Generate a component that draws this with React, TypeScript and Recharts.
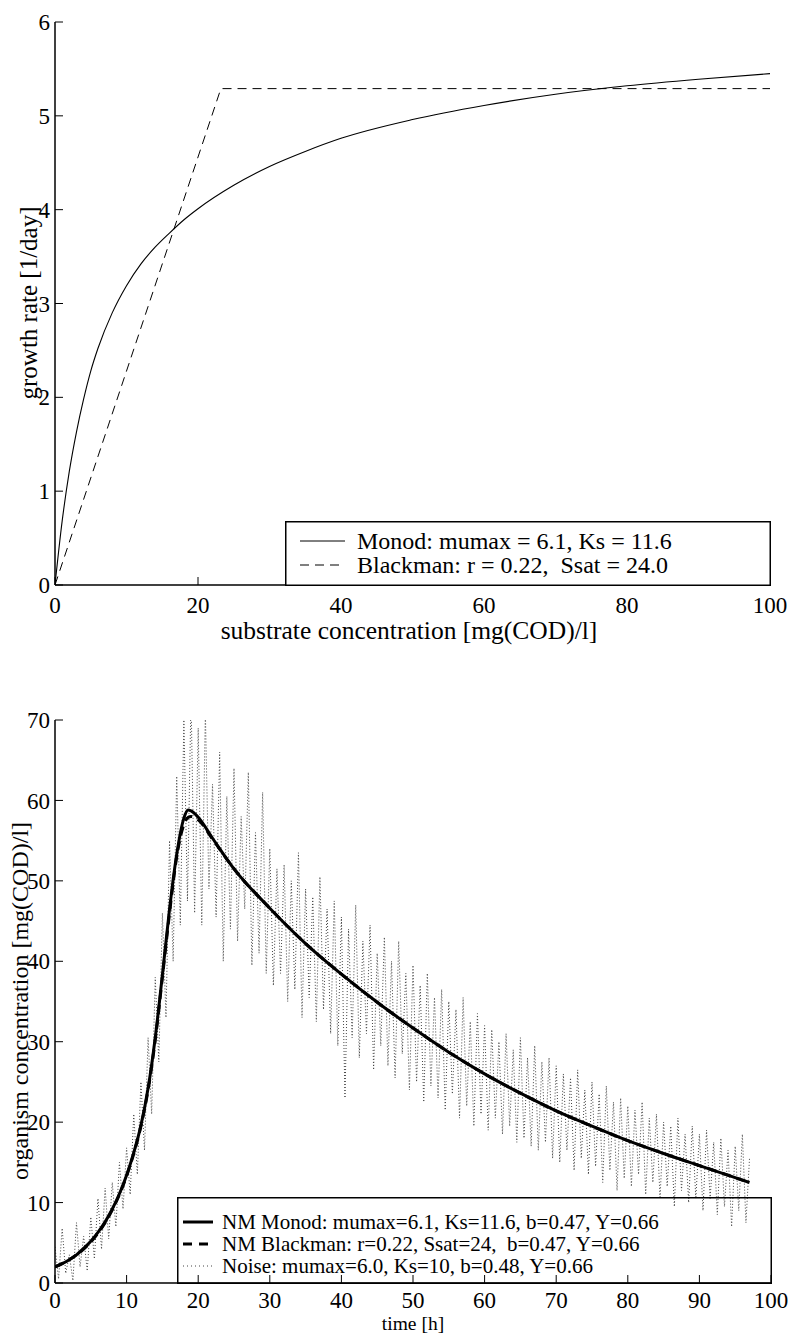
import React from "react";
import { LineChart, Line, XAxis, YAxis, Label } from "recharts";

const FONT = '"Liberation Serif", "Times New Roman", serif';

// upper panel: growth rate [1/day] against substrate [mg(COD)/l]
const substrate = [0, 1, 2, 3, 4, 5, 6, 8, 10, 12, 14, 16, 18, 20, 25, 30, 35, 40, 50, 60, 70, 80, 90, 100];
const monodRate = [0, 0.68, 1.21, 1.63, 1.98, 2.28, 2.52, 2.9, 3.19, 3.42, 3.6, 3.75, 3.89, 4.01, 4.26, 4.46, 4.62, 4.76, 4.96, 5.11, 5.23, 5.32, 5.39, 5.45];
const blackmanS = [0, 23.2, 100];
const blackmanRate = [0, 5.29, 5.29];
const topXTicks = [0, 20, 40, 60, 80, 100];
const topYTicks = [0, 1, 2, 3, 4, 5, 6];

// lower panel: organism concentration over time
const timeH = [0, 1, 2, 3, 4, 5, 6, 7, 8, 9, 10, 11, 12, 13, 14, 15, 16, 17, 18, 18.6, 19, 20, 22, 25, 30, 35, 40, 45, 50, 55, 60, 65, 70, 75, 80, 85, 90, 95, 97];
const nmMonod = [2.0, 2.4, 2.9, 3.5, 4.3, 5.2, 6.3, 7.6, 9.2, 11.1, 13.4, 16.2, 19.6, 24.2, 30.5, 38.3, 46.5, 53.3, 57.8, 58.8, 58.7, 57.9, 55.3, 51.5, 46.6, 42.2, 38.4, 34.9, 31.7, 28.7, 26.0, 23.6, 21.4, 19.5, 17.7, 16.1, 14.6, 13.1, 12.5];
const nmBlackman = [2.0, 2.4, 2.9, 3.5, 4.2, 5.1, 6.2, 7.5, 9.1, 11.0, 13.3, 16.1, 19.5, 24.0, 30.2, 38.0, 46.0, 53.0, 57.0, 57.9, 58.0, 57.6, 55.2, 51.5, 46.6, 42.2, 38.4, 34.9, 31.7, 28.7, 26.0, 23.6, 21.4, 19.5, 17.7, 16.1, 14.6, 13.1, 12.5];
// noisy measurements, one every half hour from t = 0
const noiseStep = 0.5;
const noise = [
  4.5, 0.5, 6.8, 1.2, 3.5, 0.3, 7.5, 2.0, 5.8, 1.5, 8.2, 3.0, 10.5, 4.2, 11.8, 5.5, 12.5, 7.0, 15.0, 9.2, 16.8, 11.0, 21.0, 13.5,
  25.0, 16.5, 30.5, 21.0, 38.0, 27.5, 46.0, 33.0, 55.0, 40.0, 63.0, 44.5,
  70.0, 47.5, 73.0, 46.0, 69.0, 44.5, 71.0, 49.0, 62.0, 45.5, 66.0, 40.0, 60.5, 44.0, 64.0, 42.5, 58.0, 46.5, 63.5, 39.5, 56.0, 41.0, 61.0, 38.5,
  54.0, 37.0, 51.5, 38.5, 52.0, 35.0, 50.0, 36.5, 53.5, 33.0, 49.0, 35.5, 48.0, 32.5, 50.5, 34.0, 46.5, 31.0, 47.5, 29.5,
  45.5, 23.0, 44.0, 30.5, 47.0, 28.0, 42.5, 31.0, 44.5, 26.5, 41.0, 29.5, 43.0, 27.0, 40.0, 25.5, 42.5, 28.5, 38.5, 24.0,
  39.5, 25.0, 37.0, 22.5, 38.5, 24.5, 35.5, 23.0, 36.5, 21.5, 35.0, 23.5, 34.0, 20.5, 35.5, 22.0, 32.5, 19.5, 33.5, 21.0,
  32.0, 19.0, 31.5, 20.5, 30.0, 18.5, 31.0, 19.5, 29.0, 17.5, 30.5, 18.0, 28.0, 17.0, 29.5, 16.5, 27.5, 17.5, 28.0, 15.5,
  27.0, 15.0, 26.0, 16.5, 25.5, 14.0, 26.5, 15.5, 24.0, 13.5, 25.0, 14.5, 23.5, 12.5, 24.5, 14.0, 22.5, 11.5, 23.0, 13.0,
  22.0, 12.0, 21.5, 13.5, 22.5, 11.0, 20.5, 12.5, 21.0, 10.5, 20.0, 12.0, 19.5, 9.5, 20.5, 11.5, 18.5, 10.0, 19.5, 10.5,
  18.5, 9.0, 19.0, 10.5, 17.5, 8.5, 18.0, 9.5, 16.5, 7.0, 17.0, 9.0, 18.5, 7.5, 15.5,
];
const botXTicks = [0, 10, 20, 30, 40, 50, 60, 70, 80, 90, 100];
const botYTicks = [0, 10, 20, 30, 40, 50, 60, 70];

const pairs = (xs: number[], ys: number[]) => xs.map((x, i) => ({ x, y: ys[i] }));
const monodTopData = pairs(substrate, monodRate);
const blackmanTopData = pairs(blackmanS, blackmanRate);
const monodData = pairs(timeH, nmMonod);
const blackmanData = pairs(timeH, nmBlackman);
const noiseData = noise.map((y, i) => ({ x: i * noiseStep, y }));

const tickStyle = { fill: "#000", fontSize: 23, fontFamily: FONT };

function Frame({ xTicks, yTicks, xDomain, yDomain, xTitle, yTitle, xMargin }: any) {
  // the four axes; ticks point inwards like the MATLAB box
  return [
    <XAxis key="xb" xAxisId="b" dataKey="x" type="number" domain={xDomain} ticks={xTicks} interval={0}
      allowDataOverflow height={35} stroke="#000" axisLine={{ strokeWidth: 1.5 }} tickSize={-8} tickMargin={xMargin}
      tick={tickStyle}>
      {xTitle}
    </XAxis>,
    <XAxis key="xt" xAxisId="t" orientation="top" dataKey="x" type="number" domain={xDomain} ticks={xTicks}
      interval={0} allowDataOverflow height={0} stroke="#000" axisLine={{ strokeWidth: 1.5 }} tickSize={-8}
      tick={false} />,
    <YAxis key="yl" yAxisId="l" type="number" domain={yDomain} ticks={yTicks} interval={0} allowDataOverflow
      width={45} stroke="#000" axisLine={{ strokeWidth: 1.5 }} tickSize={-8} tickMargin={13} tick={tickStyle}>
      {yTitle}
    </YAxis>,
    <YAxis key="yr" yAxisId="r" orientation="right" type="number" domain={yDomain} ticks={yTicks} interval={0}
      allowDataOverflow width={0} stroke="#000" axisLine={{ strokeWidth: 1.5 }} tickSize={-8} tick={false} />,
  ];
}

function TopChart() {
  const xTitle = (
    <Label content={() => (
      <text x={409} y={639} textAnchor="middle" fontSize={25.5} fontFamily={FONT} fill="#000">
        substrate concentration [mg(COD)/l]
      </text>
    )} />
  );
  const yTitle = (
    <Label content={() => (
      <text x={37} y={303} textAnchor="middle" fontSize={25} fontFamily={FONT} fill="#000"
        transform="rotate(-90 37 303)">
        growth rate [1/day]
      </text>
    )} />
  );
  return (
    <LineChart width={792} height={670} margin={{ top: 22, right: 22, bottom: 50, left: 10 }}>
      {Frame({ xTicks: topXTicks, yTicks: topYTicks, xDomain: [0, 100], yDomain: [0, 6], xTitle, yTitle, xMargin: 20 })}
      <Line data={blackmanTopData} xAxisId="b" yAxisId="l" dataKey="y" type="linear" stroke="#000"
        strokeWidth={1} strokeDasharray="9 6" dot={false} isAnimationActive={false} />
      <Line data={monodTopData} xAxisId="b" yAxisId="l" dataKey="y" type="monotone" stroke="#000"
        strokeWidth={1.1} dot={false} isAnimationActive={false} />
    </LineChart>
  );
}

function BottomChart() {
  const xTitle = (
    <Label content={() => (
      <text x={413} y={632} textAnchor="middle" fontSize={19.5} fontFamily={FONT} fill="#000">
        time [h]
      </text>
    )} />
  );
  const yTitle = (
    <Label content={() => (
      <text x={28} y={303} textAnchor="middle" fontSize={24} fontFamily={FONT} fill="#000"
        transform="rotate(-90 28 303)">
        organism concentration [mg(COD)/l]
      </text>
    )} />
  );
  return (
    <LineChart width={792} height={635} margin={{ top: 22, right: 21, bottom: 15, left: 10 }}>
      {Frame({ xTicks: botXTicks, yTicks: botYTicks, xDomain: [0, 100], yDomain: [0, 70], xTitle, yTitle, xMargin: 17 })}
      <Line data={noiseData} xAxisId="b" yAxisId="l" dataKey="y" type="linear" stroke="#444"
        strokeWidth={1} strokeDasharray="1 2" dot={false} isAnimationActive={false} />
      <Line data={blackmanData} xAxisId="b" yAxisId="l" dataKey="y" type="monotone" stroke="#000"
        strokeWidth={3} strokeDasharray="9 6" dot={false} isAnimationActive={false} />
      <Line data={monodData} xAxisId="b" yAxisId="l" dataKey="y" type="monotone" stroke="#000"
        strokeWidth={3} dot={false} isAnimationActive={false} />
    </LineChart>
  );
}

function TopLegend() {
  return (
    <svg width={486} height={65} style={{ position: "absolute", left: 285, top: 521, pointerEvents: "none" }}>
      <rect x={0.75} y={0.75} width={484.5} height={63.5} fill="#fff" stroke="#000" strokeWidth={1.5} />
      <line x1={15} x2={60} y1={20} y2={20} stroke="#000" strokeWidth={1} />
      <text x={72} y={28} fontSize={24} fontFamily={FONT}>Monod: mumax = 6.1, Ks = 11.6</text>
      <line x1={15} x2={60} y1={44} y2={44} stroke="#000" strokeWidth={1} strokeDasharray="9 6" />
      <text x={72} y={52} fontSize={24} fontFamily={FONT} style={{ whiteSpace: "pre" }}>
        {"Blackman: r = 0.22,  Ssat = 24.0"}
      </text>
    </svg>
  );
}

function BottomLegend() {
  return (
    <svg width={595} height={87} style={{ position: "absolute", left: 177, top: 1197, pointerEvents: "none" }}>
      <rect x={0.75} y={0.75} width={593.5} height={85.5} fill="none" stroke="#000" strokeWidth={1.5} />
      <line x1={6} x2={36} y1={25} y2={25} stroke="#000" strokeWidth={3} />
      <text x={45} y={32} fontSize={21} fontFamily={FONT}>NM Monod: mumax=6.1, Ks=11.6, b=0.47, Y=0.66</text>
      <line x1={6} x2={36} y1={47} y2={47} stroke="#000" strokeWidth={3} strokeDasharray="9 7" />
      <text x={45} y={54} fontSize={21} fontFamily={FONT} style={{ whiteSpace: "pre" }}>
        {"NM Blackman: r=0.22, Ssat=24,  b=0.47, Y=0.66"}
      </text>
      <line x1={6} x2={36} y1={69} y2={69} stroke="#444" strokeWidth={1} strokeDasharray="1 3" />
      <text x={45} y={76} fontSize={21} fontFamily={FONT}>Noise: mumax=6.0, Ks=10, b=0.48, Y=0.66</text>
    </svg>
  );
}

export default function App() {
  return (
    <div style={{ position: "absolute", left: 0, top: 0, width: 792, height: 1333, background: "#fff" }}>
      <div style={{ position: "absolute", left: 0, top: 0 }}>
        <TopChart />
      </div>
      <div style={{ position: "absolute", left: 0, top: 698 }}>
        <BottomChart />
      </div>
      <TopLegend />
      <BottomLegend />
    </div>
  );
}
